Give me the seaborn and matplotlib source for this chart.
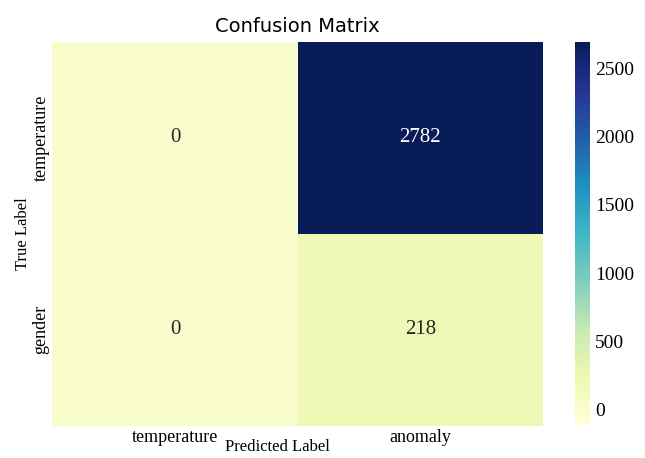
# Confusion matrix heatmap
import numpy as np
import seaborn as sns
import matplotlib.pyplot as plt

# Data
true_labels = ["temperature", "gender"]
pred_labels = ["temperature", "anomaly"]
counts = [[0, 2782],
          [0, 218]]
cbar_ticks = [0, 500, 1000, 1500, 2000, 2500]

serif = "Liberation Serif"

fig = plt.figure(figsize=(6.45, 4.58), dpi=100)
ax = fig.add_axes([0.081, 0.070, 0.761, 0.839])
cax = fig.add_axes([0.891, 0.072, 0.023, 0.836])

sns.heatmap(np.array(counts), annot=True, fmt="d", cmap="YlGnBu",
            vmin=-110, vmax=2690,
            xticklabels=pred_labels, yticklabels=true_labels,
            ax=ax, cbar_ax=cax,
            annot_kws={"fontsize": 15, "fontfamily": serif})

ax.set_title("Confusion Matrix", fontsize=14, pad=7)
ax.set_xlabel("Predicted Label", fontsize=12, fontfamily=serif)
ax.xaxis.set_label_coords(0.458, -0.035)
ax.set_ylabel("True Label", fontsize=12, fontfamily=serif, labelpad=1)
ax.tick_params(length=0, pad=2)
for t in ax.get_xticklabels():
    t.set_fontfamily(serif)
    t.set_fontsize(13)
for t in ax.get_yticklabels():
    t.set_fontfamily(serif)
    t.set_fontsize(13)
    t.set_rotation(90)
    t.set_va("center")

cax.set_yticks(cbar_ticks)
cax.tick_params(length=0, pad=4)
for t in cax.get_yticklabels():
    t.set_fontfamily(serif)
    t.set_fontsize(14)

plt.savefig("out.png", dpi=100)
